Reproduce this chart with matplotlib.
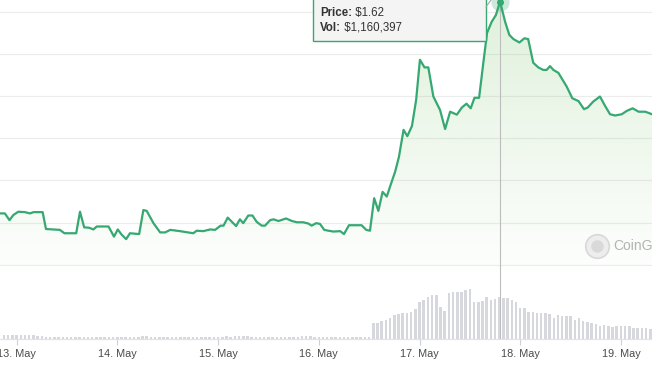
import numpy as np
import pandas as pd
import matplotlib
matplotlib.use("Agg")
import matplotlib.pyplot as plt
import matplotlib.dates as mdates
from matplotlib.patches import Polygon, Rectangle
from matplotlib.lines import Line2D
from matplotlib.colors import to_rgb

plt.rcParams['font.family'] = ['Liberation Sans', 'DejaVu Sans']

# time origin: 13 May 00:00, everything below is in hours after it
start = pd.Timestamp("2021-05-13 00:00")

# price readings (USD)
price_hours = [-4.0, -2.8, -1.7, -0.8, 0.4, 2.0, 3.2, 4.0, 6.2, 7.0, 10.3, 11.4, 14.2, 15.1,
               16.1, 17.3, 18.3, 19.1, 21.9, 23.2, 24.1, 25.0, 26.1, 27.0, 29.2, 30.2, 31.0,
               32.6, 34.2, 35.4, 36.6, 38.9, 42.1, 42.9, 44.5, 46.1, 47.3, 48.6, 49.3, 50.3,
               52.3, 53.2, 54.0, 55.2, 56.2, 57.2, 58.4, 59.2, 60.4, 61.2, 62.4, 64.2, 65.6,
               66.8, 68.3, 69.5, 70.3, 71.4, 72.3, 73.3, 74.3, 75.5, 77.1, 78.0, 79.2, 82.2,
               83.3, 84.2, 85.2, 86.2, 87.2, 88.2, 89.2, 90.2, 91.1, 92.2, 93.1, 94.2, 95.2,
               96.1, 97.2, 98.1, 99.3, 100.9, 102.1, 103.3, 104.9, 106.1, 107.2, 108.2, 109.1,
               110.2, 111.2, 112.1, 113.2, 114.2, 115.2, 116.4, 117.4, 118.4, 119.8, 121.0,
               121.9, 123.1, 124.3, 125.5, 126.3, 127.1, 127.9, 129.1, 131.1, 132.4, 133.9,
               135.2, 136.1, 137.4, 139.0, 140.2, 141.4, 142.6, 144.2, 145.4, 146.8, 148.2,
               149.8, 151.4]
price_usd = [1.122, 1.122, 1.106, 1.118, 1.126, 1.125, 1.122, 1.125, 1.125, 1.085, 1.083, 1.075,
             1.075, 1.126, 1.089, 1.088, 1.084, 1.091, 1.091, 1.067, 1.084, 1.072, 1.061, 1.075,
             1.073, 1.130, 1.128, 1.099, 1.077, 1.077, 1.083, 1.080, 1.075, 1.081, 1.080, 1.084,
             1.083, 1.093, 1.093, 1.112, 1.092, 1.108, 1.099, 1.117, 1.117, 1.102, 1.093, 1.093,
             1.106, 1.108, 1.104, 1.110, 1.104, 1.101, 1.101, 1.098, 1.093, 1.099, 1.097, 1.083,
             1.081, 1.079, 1.080, 1.073, 1.094, 1.094, 1.083, 1.081, 1.158, 1.128, 1.173, 1.162,
             1.192, 1.221, 1.256, 1.320, 1.305, 1.329, 1.391, 1.486, 1.468, 1.468, 1.399, 1.367,
             1.322, 1.363, 1.356, 1.373, 1.382, 1.371, 1.396, 1.396, 1.478, 1.550, 1.576, 1.592,
             1.624, 1.576, 1.545, 1.535, 1.527, 1.537, 1.535, 1.479, 1.468, 1.462, 1.462, 1.471,
             1.462, 1.455, 1.422, 1.395, 1.388, 1.369, 1.373, 1.387, 1.399, 1.377, 1.357, 1.354,
             1.357, 1.365, 1.371, 1.363, 1.363, 1.357]

# hourly volume (thousand USD), quiet days then the breakout
vol_quiet = [124, 110, 124, 97, 110, 110, 97, 97, 83, 83, 69,
             55, 55, 62, 55, 55, 55, 55, 62, 55, 55, 55, 55, 55, 55, 62, 55, 55, 55, 55, 55, 55, 55,
             83, 76, 69, 62,
             55, 55, 55, 55, 55, 55, 55, 55, 62, 55, 55, 55, 55, 55, 62, 62,
             83, 69, 76, 83, 76, 83, 69,
             62, 55, 55, 62, 55, 55, 55, 55, 62, 55, 55,
             76, 83, 76, 69, 62,
             55, 55, 55, 55, 55, 55, 62, 55, 55, 55, 55, 55]
vol_active = [442, 442, 489, 517, 580, 655, 691, 718, 718, 746, 837, 1014, 1086, 1160, 1224, 1224,
              884, 765, 1271, 1299, 1299, 1299, 1362, 1381, 1014, 1014, 1058, 1160, 1086, 1105,
              1160.397, 1133, 1133, 1086, 1014, 856, 856, 738, 738, 718, 718, 718, 691, 572, 671,
              644, 644, 644, 533, 588, 489, 461, 434, 414, 367, 387, 367, 340, 367, 367, 367, 367,
              312, 304, 304, 296, 276]
vol_first_hour = -3

grid_prices = [1.0, 1.1, 1.2, 1.3, 1.4, 1.5, 1.6]

green = '#36a872'

fig = plt.figure(figsize=(6.52, 3.75), dpi=100)
ax = fig.add_axes([0, 36 / 375, 1, 339 / 375])
ax2 = ax.twinx()

pt = start + pd.to_timedelta(price_hours, unit='h')
px = mdates.date2num(pt.to_pydatetime())
py = np.array(price_usd)

vols = np.array(vol_quiet + vol_active) * 1000
vt = start + pd.to_timedelta(np.arange(vol_first_hour, vol_first_hour + len(vols)), unit='h')
vx = mdates.date2num(vt.to_pydatetime())

x0 = mdates.date2num((start + pd.Timedelta(hours=-3.96)).to_pydatetime())
x1 = mdates.date2num((start + pd.Timedelta(hours=151.4)).to_pydatetime())
ytop = 1.6277
ybot = 0.8244

for g in grid_prices:
    ax.axhline(g, color='#ececec', lw=0.8, zorder=0)

# gradient fill under the price line
base = grid_prices[0]
poly = Polygon([(px[0], base)] + list(zip(px, py)) + [(px[-1], base)],
               facecolor='none', edgecolor='none')
ax.add_patch(poly)
n = 256
rgba = np.zeros((n, 1, 4))
rgba[..., :3] = to_rgb('#7cc46a')
rgba[:, 0, 3] = np.linspace(0.24, 0.02, n)
im = ax.imshow(rgba, extent=[px[0], px[-1], base, ytop], aspect='auto',
               origin='upper', zorder=1, interpolation='bilinear')
im.set_clip_path(poly)

ax.plot(px, py, color=green, lw=1.6, zorder=3, solid_joinstyle='round')

# volume bars
ax2.bar(vx, vols, width=0.6 / 24, color='#d6d8de', zorder=1)
ax2.set_ylim(0, 339 * 27628)

# hover crosshair and point
ipk = int(np.argmax(py))
ax.axvline(px[ipk], color='#bdbdbd', lw=0.8, zorder=2)
ax.plot(px[ipk], py[ipk], 'o', ms=13, color=green, alpha=0.25, mec='none', zorder=4, clip_on=False)
ax.plot(px[ipk], py[ipk], 'o', ms=5, color=green, mec='none', zorder=5, clip_on=False)

ax.set_xlim(x0, x1)
ax.set_ylim(ybot, ytop)
ax2.set_xlim(x0, x1)

ax.xaxis.set_major_locator(mdates.DayLocator())
ax.xaxis.set_major_formatter(mdates.DateFormatter('%-d. %b'))
ax.tick_params(axis='x', length=4, width=0.8, color='#ccd0d8', labelsize=7.8,
               labelcolor='#4a4a4a', pad=3)
ax.tick_params(axis='y', left=False, labelleft=False)
ax2.tick_params(axis='y', right=False, labelright=False)
for a in (ax, ax2):
    for s in ('top', 'left', 'right'):
        a.spines[s].set_visible(False)
    a.spines['bottom'].set_color('#e3e3e3')
    a.spines['bottom'].set_linewidth(0.8)

# watermark
ax.plot([0.915], [0.275], 'o', transform=ax.transAxes, ms=17, mfc='#ededed',
        mec='#d8d8d8', mew=1.2, zorder=2)
ax.plot([0.915], [0.275], 'o', transform=ax.transAxes, ms=9, mfc='#d9d9d9',
        mec='none', zorder=2)
ax.text(0.94, 0.275, 'CoinGecko', transform=ax.transAxes, fontsize=10,
        color='#b3b3b3', va='center', ha='left', zorder=2)

# tooltip
box = Rectangle((313 / 652, 1 - 40.7 / 375), (486 - 313) / 652, 60 / 375,
                transform=fig.transFigure, facecolor='#f4f4f4', edgecolor=green,
                lw=1, zorder=10)
fig.add_artist(box)
fig.add_artist(Line2D([486 / 652, 491 / 652], [1 - 7 / 375, 1.0], transform=fig.transFigure,
                      color='#a8a8a8', lw=0.8, zorder=10))
t1 = fig.text(320 / 652, 1 - 13 / 375, 'Price:', fontsize=8.3, fontweight='bold',
              color='#333333', va='center', zorder=11)
t2 = fig.text(320 / 652, 1 - 28 / 375, 'Vol:', fontsize=8.3, fontweight='bold',
              color='#333333', va='center', zorder=11)
fig.add_artist(plt.Annotation(r' \$1.62', xy=(1, 0.5), xycoords=t1, va='center',
                              fontsize=8.3, color='#333333', zorder=11))
fig.add_artist(plt.Annotation(r' \$1,160,397', xy=(1, 0.5), xycoords=t2, va='center',
                              fontsize=8.3, color='#333333', zorder=11))

fig.savefig('out.png', dpi=100)
